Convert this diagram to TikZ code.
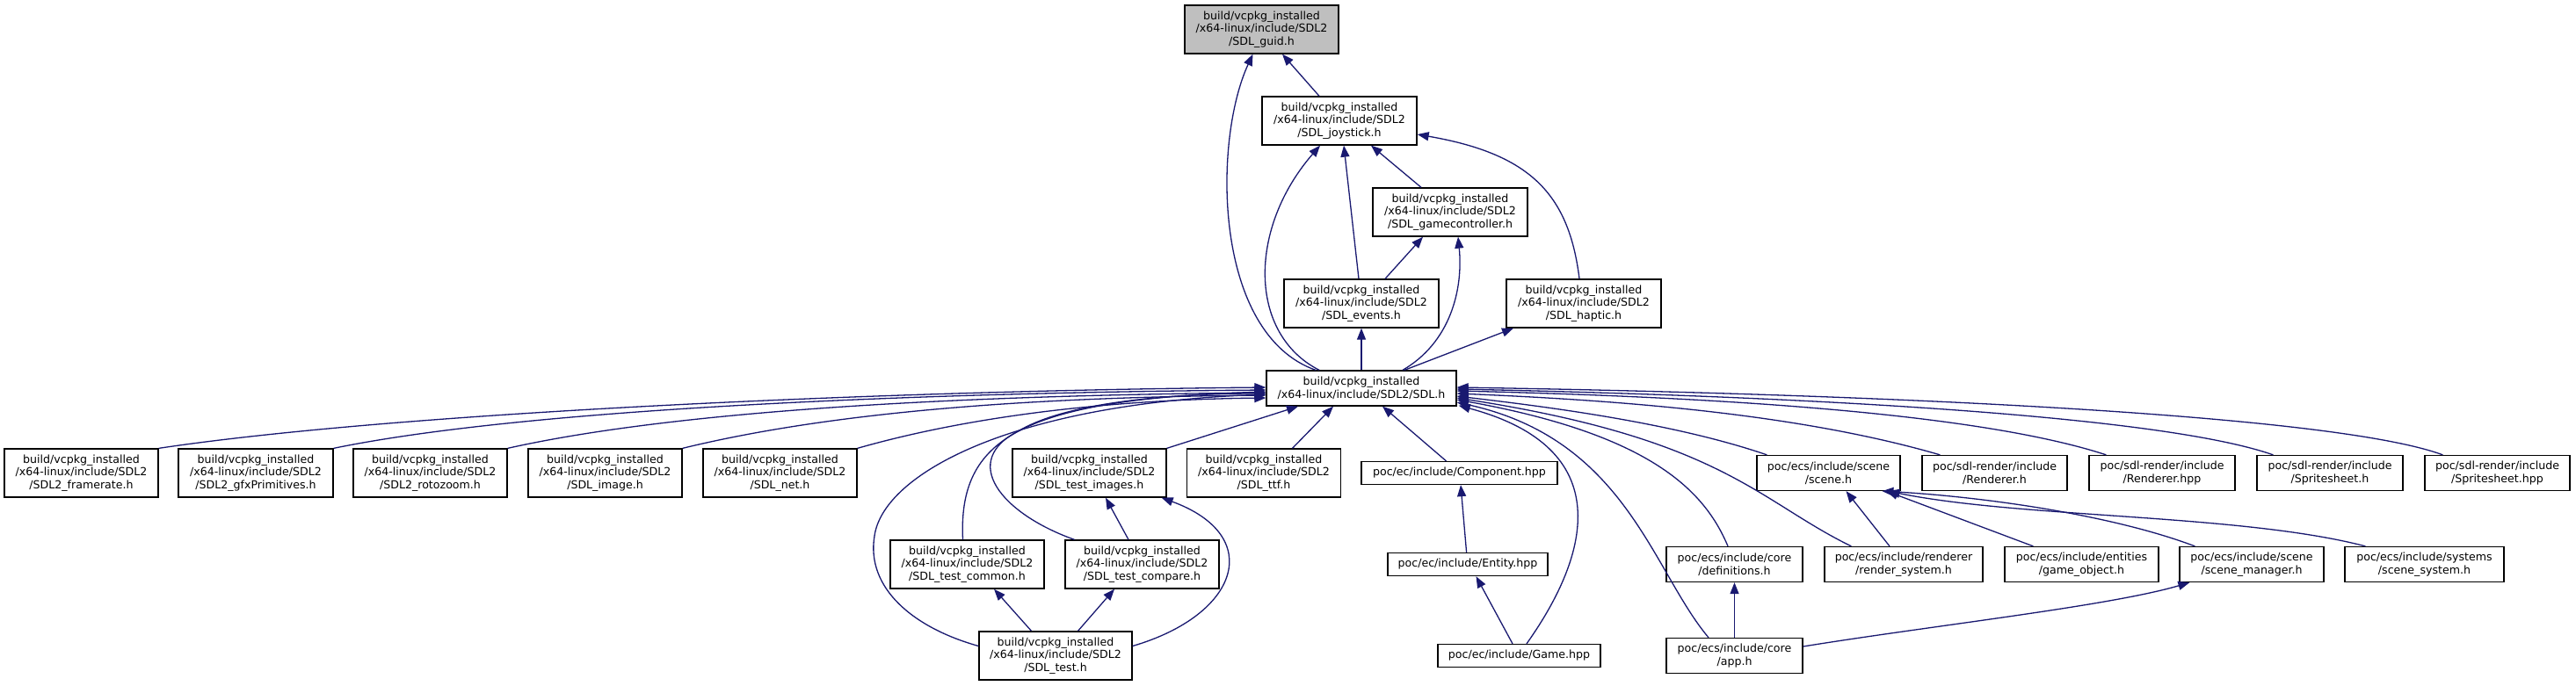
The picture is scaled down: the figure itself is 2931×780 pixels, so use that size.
\documentclass[tikz,border=0pt]{standalone}
\usepackage{fontspec}
\setmainfont{DejaVu Sans}
\usetikzlibrary{arrows.meta,calc}
\definecolor{edgeblue}{RGB}{25,25,112}
\definecolor{guidgray}{RGB}{191,191,191}
\begin{document}
\begin{tikzpicture}[x=1pt,y=-1pt,
  box/.style={draw=black, line width=1.3pt, fill=white, inner sep=0pt, align=center,
    font=\fontsize{12.6}{14.7}\selectfont, text=black},
  three/.style={box, minimum height=55pt},
  two/.style={box, minimum height=40pt},
  one/.style={box, minimum height=26pt},
  dep/.style={draw=edgeblue, line width=1.3pt, -{Triangle[length=13pt,width=10pt]}}]
\fill[white] (0,0) rectangle (2931,780);
\useasboundingbox (0,0) rectangle (2931,780);
% rank 0-4
\node[three, fill=guidgray, minimum width=175pt] (guid) at (1435.5,33.5) {build/vcpkg\_installed\\/x64-linux/include/SDL2\\/SDL\_guid.h};
\node[three, minimum width=176pt] (joystick) at (1524,137.5) {build/vcpkg\_installed\\/x64-linux/include/SDL2\\/SDL\_joystick.h};
\node[three, minimum width=176pt] (gc) at (1650,241.5) {build/vcpkg\_installed\\/x64-linux/include/SDL2\\/SDL\_gamecontroller.h};
\node[three, minimum width=176pt] (events) at (1549,345.5) {build/vcpkg\_installed\\/x64-linux/include/SDL2\\/SDL\_events.h};
\node[three, minimum width=176pt] (haptic) at (1802,345.5) {build/vcpkg\_installed\\/x64-linux/include/SDL2\\/SDL\_haptic.h};
\node[two, minimum width=216pt] (SDL) at (1549,442) {build/vcpkg\_installed\\/x64-linux/include/SDL2/SDL.h};
% rank 5
\node[three, minimum width=175pt] (framerate) at (92.5,538.5) {build/vcpkg\_installed\\/x64-linux/include/SDL2\\/SDL2\_framerate.h};
\node[three, minimum width=176pt] (gfx) at (291,538.5) {build/vcpkg\_installed\\/x64-linux/include/SDL2\\/SDL2\_gfxPrimitives.h};
\node[three, minimum width=175pt] (roto) at (489.5,538.5) {build/vcpkg\_installed\\/x64-linux/include/SDL2\\/SDL2\_rotozoom.h};
\node[three, minimum width=175pt] (image) at (688.5,538.5) {build/vcpkg\_installed\\/x64-linux/include/SDL2\\/SDL\_image.h};
\node[three, minimum width=175pt] (net) at (887.5,538.5) {build/vcpkg\_installed\\/x64-linux/include/SDL2\\/SDL\_net.h};
\node[three, minimum width=175pt] (timages) at (1239.5,538.5) {build/vcpkg\_installed\\/x64-linux/include/SDL2\\/SDL\_test\_images.h};
\node[three, minimum width=175pt] (ttf) at (1438,538.5) {build/vcpkg\_installed\\/x64-linux/include/SDL2\\/SDL\_ttf.h};
\node[one, minimum width=223pt] (component) at (1660.5,538.5) {poc/ec/include/Component.hpp};
\node[two, minimum width=163pt] (scene) at (2080.5,538.5) {poc/ecs/include/scene\\/scene.h};
\node[two, minimum width=165pt] (rendh) at (2269.5,538.5) {poc/sdl-render/include\\/Renderer.h};
\node[two, minimum width=166pt] (rendhpp) at (2460,538.5) {poc/sdl-render/include\\/Renderer.hpp};
\node[two, minimum width=166pt] (spriteh) at (2651,538.5) {poc/sdl-render/include\\/Spritesheet.h};
\node[two, minimum width=165pt] (spritehpp) at (2841.5,538.5) {poc/sdl-render/include\\/Spritesheet.hpp};
% rank 6
\node[three, minimum width=175pt] (tcommon) at (1100.5,642.5) {build/vcpkg\_installed\\/x64-linux/include/SDL2\\/SDL\_test\_common.h};
\node[three, minimum width=175pt] (tcompare) at (1299.5,642.5) {build/vcpkg\_installed\\/x64-linux/include/SDL2\\/SDL\_test\_compare.h};
\node[one, minimum width=182pt] (entity) at (1670,642.5) {poc/ec/include/Entity.hpp};
\node[two, minimum width=155pt] (defs) at (1973.5,642.5) {poc/ecs/include/core\\/definitions.h};
\node[two, minimum width=180pt] (rsys) at (2166,642.5) {poc/ecs/include/renderer\\/render\_system.h};
\node[two, minimum width=175pt] (gobj) at (2368.5,642.5) {poc/ecs/include/entities\\/game\_object.h};
\node[two, minimum width=164pt] (smgr) at (2562,642.5) {poc/ecs/include/scene\\/scene\_manager.h};
\node[two, minimum width=181pt] (ssys) at (2758.5,642.5) {poc/ecs/include/systems\\/scene\_system.h};
% rank 7
\node[three, minimum width=174pt] (sdltest) at (1201,746.5) {build/vcpkg\_installed\\/x64-linux/include/SDL2\\/SDL\_test.h};
\node[one, minimum width=185pt] (game) at (1728.5,746.5) {poc/ec/include/Game.hpp};
\node[two, minimum width=155pt] (app) at (1973.5,746.5) {poc/ecs/include/core\\/app.h};

% upper part
\draw[dep] ($(joystick.north)+(-23,0)$) -- ($(guid.south)+(23.5,0)$);
\draw[dep] ($(SDL.north)+(-52,0)$) .. controls (1380,380) and (1380,160) .. ($(guid.south)+(-10,0)$);
\draw[dep] ($(SDL.north)+(-48,0)$) .. controls (1420,380) and (1420,260) .. ($(joystick.south)+(-22,0)$);
\draw[dep] ($(events.north)+(-3,0)$) -- ($(joystick.south)+(5,0)$);
\draw[dep] ($(gc.north)+(-33,0)$) -- ($(joystick.south)+(36,0)$);
\draw[dep] ($(haptic.north)+(-5,0)$) .. controls (1785,220) and (1740,175) .. ($(joystick.east)+(0,15.5)$);
\draw[dep] ($(events.north)+(27,0)$) -- ($(gc.south)+(-31,0)$);
\draw[dep] ($(SDL.north)+(47,0)$) .. controls (1650,390) and (1665,330) .. ($(gc.south)+(9,0)$);
\draw[dep] (SDL.north) -- (events.south);
\draw[dep] ($(SDL.north)+(49,0)$) -- ($(haptic.south)+(-80,0)$);

% left side into SDL.h
\draw[dep] (framerate.north east) .. controls (450,470) and (1000,445) .. ($(SDL.west)+(0,-1)$);
\draw[dep] (gfx.north east) .. controls (600,465) and (1050,447) .. ($(SDL.west)+(0,2)$);
\draw[dep] (roto.north east) .. controls (780,465) and (1120,450) .. ($(SDL.west)+(0,5)$);
\draw[dep] (image.north east) .. controls (950,468) and (1180,452) .. ($(SDL.west)+(0,8)$);
\draw[dep] (net.north east) .. controls (1110,472) and (1270,455) .. ($(SDL.west)+(0,11)$);
\draw[dep] (timages.north east) -- ($(SDL.south)+(-72,0)$);
\draw[dep] ($(ttf.north)+(32.5,0)$) -- ($(SDL.south)+(-32,0)$);
\draw[dep] ($(component.north)+(-15,0)$) -- ($(SDL.south)+(24,0)$);
\draw[dep] ($(tcommon.north)+(-5,0)$) .. controls (1090,500) and (1160,455) .. ($(SDL.west)+(0,4)$);
\draw[dep] ($(tcompare.north)+(-77,0)$) .. controls (1140,585) and (1090,525) .. (1160,490) .. controls (1220,455) and (1350,448) .. ($(SDL.west)+(0,6)$);
\draw[dep] ($(sdltest.west)+(0,-11)$) .. controls (1040,715) and (985,670) .. (995,610) .. controls (1005,540) and (1150,460) .. ($(SDL.west)+(0,7)$);

% SDL test group
\draw[dep] ($(sdltest.east)+(0,-11)$) .. controls (1410,700) and (1440,610) .. ($(timages.south east)+(-6,0)$);
\draw[dep] ($(tcompare.north)+(-15.5,0)$) -- ($(timages.south)+(18.5,0)$);
\draw[dep] ($(sdltest.north)+(-27.5,0)$) -- ($(tcommon.south)+(30.5,0)$);
\draw[dep] ($(sdltest.north)+(25.5,0)$) -- ($(tcompare.south)+(-31.5,0)$);

% ec group
\draw[dep] ($(entity.north)+(-1.4,0)$) -- ($(component.south)+(1.5,0)$);
\draw[dep] ($(game.north)+(-7.5,0)$) -- ($(entity.south)+(9.5,0)$);
\draw[dep] ($(game.north)+(8.5,0)$) .. controls (1810,630) and (1840,510) .. ($(SDL.south east)+(2,-1)$);

% right side into SDL.h
\draw[dep] ($(spritehpp.north west)+(21,0)$) .. controls (2650,470) and (2100,448) .. ($(SDL.east)+(0,-1)$);
\draw[dep] ($(spriteh.north west)+(19,0)$) .. controls (2450,470) and (2000,450) .. ($(SDL.east)+(0,1)$);
\draw[dep] ($(rendhpp.north west)+(20,0)$) .. controls (2250,470) and (1950,452) .. ($(SDL.east)+(0,3)$);
\draw[dep] ($(rendh.north west)+(21,0)$) .. controls (2050,472) and (1850,456) .. ($(SDL.east)+(0,6)$);
\draw[dep] ($(scene.north west)+(12,0)$) .. controls (1900,480) and (1750,462) .. ($(SDL.east)+(0,9)$);
\draw[dep] ($(rsys.north west)+(31,0)$) .. controls (2000,570) and (1960,500) .. ($(SDL.east)+(0,11)$);
\draw[dep] ($(defs.north)+(-7.5,0)$) .. controls (1940,560) and (1880,495) .. ($(SDL.east)+(0,13)$);
\draw[dep] ($(app.north)+(-29.5,0)$) .. controls (1880,650) and (1850,500) .. ($(SDL.east)+(0,16)$);

% ecs group
\draw[dep] ($(rsys.north)+(-16,0)$) -- ($(scene.south)+(20,0)$);
\draw[dep] ($(gobj.north west)+(33,0)$) -- ($(scene.south)+(66,0)$);
\draw[dep] ($(smgr.north west)+(18,0)$) .. controls (2400,585) and (2250,565) .. ($(scene.south)+(61,0)$);
\draw[dep] ($(ssys.north west)+(24,0)$) .. controls (2550,585) and (2300,590) .. ($(scene.south)+(68,0)$);
\draw[dep] (app.north) -- (defs.south);
\draw[dep] ($(app.east)+(0,-10.5)$) .. controls (2200,712) and (2400,690) .. ($(smgr.south west)+(12,0)$);
\end{tikzpicture}
\end{document}
